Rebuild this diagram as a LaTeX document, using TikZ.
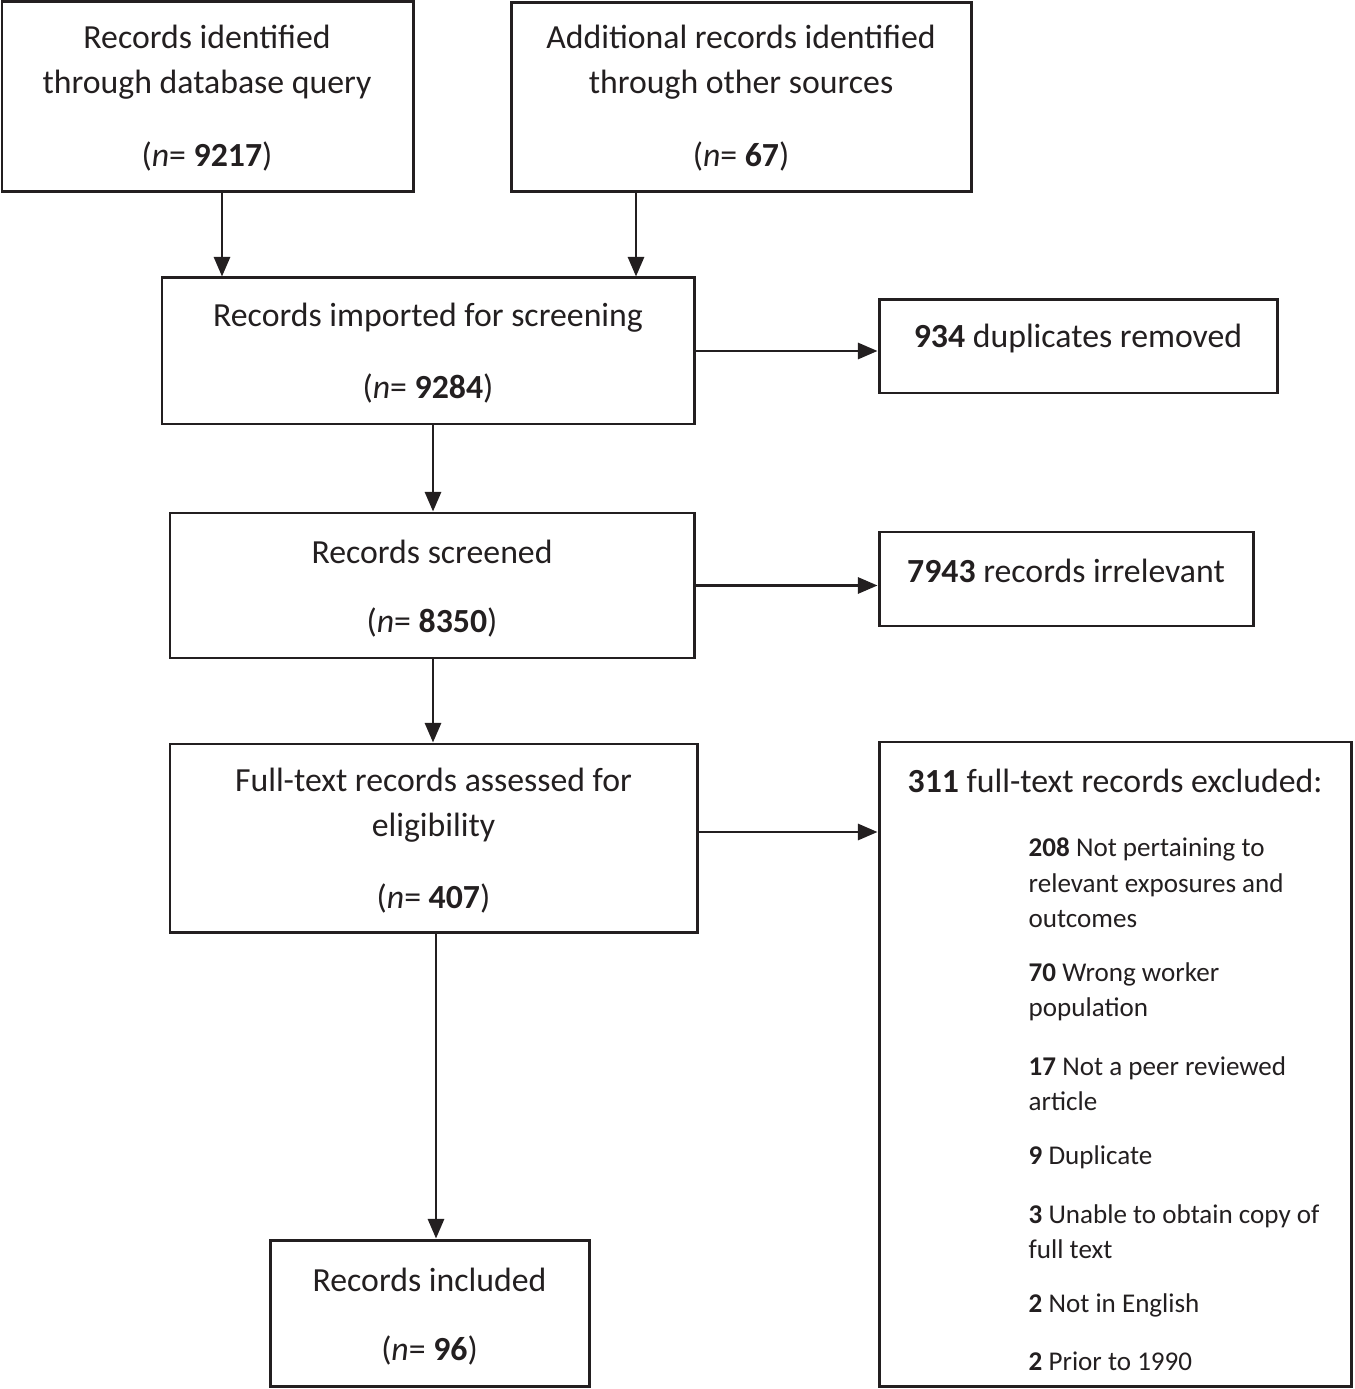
\documentclass[tikz,border=0pt]{standalone}
\usepackage{fontspec}
\setmainfont{Carlito}
\usetikzlibrary{arrows.meta,calc,fit}
\definecolor{ink}{HTML}{231F20}
\begin{document}
\begin{tikzpicture}[x=0.01cm,y=-0.01cm,
  box/.style={draw=ink, line width=0.85pt, inner sep=0pt},
  txt/.style={inner sep=0pt, align=center, text=ink, yshift=-0.75pt, font=\fontsize{9.6}{12.8}\selectfont},
  item/.style={inner sep=0pt, align=left, anchor=west, text=ink, yshift=-0.5pt, font=\fontsize{7.7}{9.96}\selectfont},
  arr/.style={draw=ink, line width=0.75pt, -{Triangle[length=5.6pt,width=4.6pt]}}]
\useasboundingbox (0,0) rectangle (1354,1389);
% boxes
\node[box, fit={(2,2) (413,192)}] (b1) {};
\node[box, fit={(511,3) (971,192)}] (b2) {};
\node[box, fit={(162,278) (694,424)}] (b3) {};
\node[box, fit={(879,300) (1277,393)}] (b4) {};
\node[box, fit={(170,513) (694,658)}] (b5) {};
\node[box, fit={(879,532) (1253,626)}] (b6) {};
\node[box, fit={(170,744) (697,932)}] (b7) {};
\node[box, fit={(879,742) (1351,1386)}] (b8) {};
\node[box, fit={(270,1240) (589,1386)}] (b9) {};
% texts
\node[txt] (t1) at (207,59.5) {Records identified\\through database query};
\node[txt] (n1) at (207,154) {(\textit{n}= \textbf{9217})};
\node[txt] (t2) at (741,60) {Additional records identified\\through other sources};
\node[txt] (n2) at (741,154) {(\textit{n}= \textbf{67})};
\node[txt] (t3) at (428,315) {Records imported for screening};
\node[txt] (n3) at (428,386) {(\textit{n}= \textbf{9284})};
\node[txt] (t4) at (1078,336) {\textbf{934} duplicates removed};
\node[txt] (t5) at (432,549) {Records screened};
\node[txt] (n5) at (432,620) {(\textit{n}= \textbf{8350})};
\node[txt] (t6) at (1066,568) {\textbf{7943} records irrelevant};
\node[txt] (t7) at (433.5,802.5) {Full-text records assessed for\\eligibility};
\node[txt] (n7) at (433.5,896) {(\textit{n}= \textbf{407})};
\node[txt] (t8) at (1115,778) {\textbf{311} full-text records excluded:};
\node[item] (i1) at (1028,881) {\textbf{208} Not pertaining to\\relevant exposures and\\outcomes};
\node[item] (i2) at (1028,990.5) {\textbf{70} Wrong worker\\population};
\node[item] (i3) at (1028,1081.5) {\textbf{17} Not a peer reviewed\\article};
\node[item] (i4) at (1028,1156) {\textbf{9} Duplicate};
\node[item] (i5) at (1028,1229.5) {\textbf{3} Unable to obtain copy of\\full text};
\node[item] (i6) at (1028,1304) {\textbf{2} Not in English};
\node[item] (i7) at (1028,1360) {\textbf{2} Prior to 1990};
\node[txt] (t9) at (429.5,1277) {Records included};
\node[txt] (n9) at (429.5,1348) {(\textit{n}= \textbf{96})};
% connectors
\coordinate (a1) at ($(b1.south)+(14.5,0)$);
\coordinate (a2) at ($(b2.south)+(-105,0)$);
\coordinate (a3) at ($(b3.south)+(5,0)$);
\coordinate (a5) at ($(b5.south)+(1,0)$);
\coordinate (a7) at ($(b7.south)+(2.5,0)$);
\coordinate (r7) at ($(b7.east)+(0,-6)$);
\draw[arr] (a1) -- (a1 |- b3.north);
\draw[arr] (a2) -- (a2 |- b3.north);
\draw[arr] (b3.east) -- (b3.east -| b4.west);
\draw[arr] (a3) -- (a3 |- b5.north);
\draw[arr] (b5.east) -- (b5.east -| b6.west);
\draw[arr] (a5) -- (a5 |- b7.north);
\draw[arr] (r7) -- (r7 -| b8.west);
\draw[arr] (a7) -- (a7 |- b9.north);
\end{tikzpicture}
\end{document}
